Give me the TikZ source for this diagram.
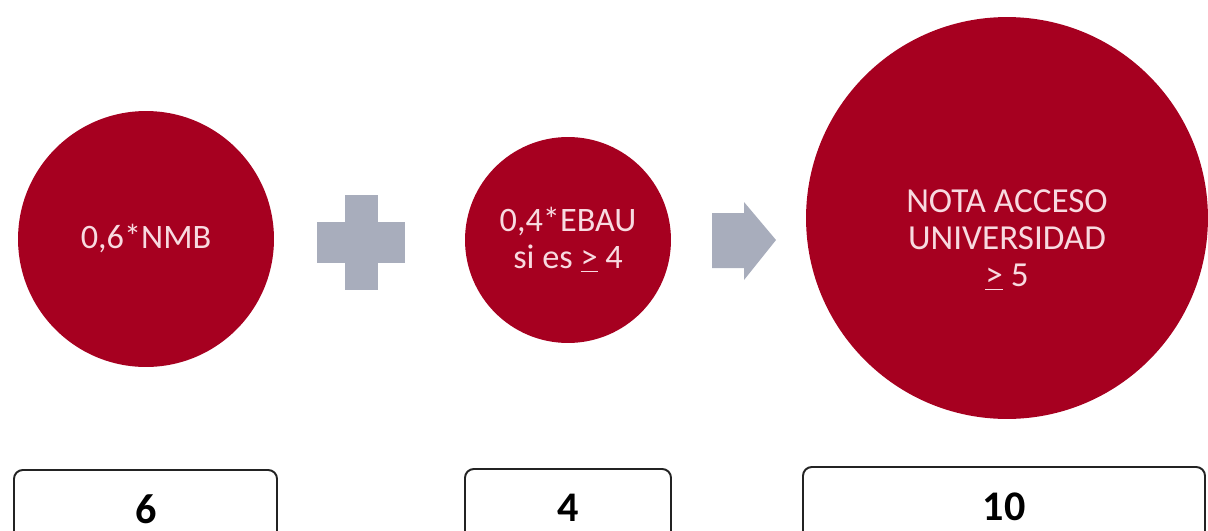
\documentclass[tikz,border=0pt]{standalone}
\usepackage{fontspec}
\setmainfont{Carlito}
\usetikzlibrary{positioning, calc}
\definecolor{ballred}{RGB}{166,0,32}
\definecolor{balltext}{RGB}{248,218,224}
\definecolor{signgray}{RGB}{168,173,188}
\definecolor{boxline}{RGB}{35,35,35}

\begin{document}
\begin{tikzpicture}[x=0.02cm, y=-0.02cm,
    ball/.style={circle, fill=ballred, inner sep=0pt},
    balltxt/.style={text=balltext, align=center, inner sep=0pt,
      font=\fontsize{19.5}{21}\selectfont},
    scorebox/.style={draw=boxline, line width=1.1pt, rounded corners=5pt},
    scoretxt/.style={inner sep=0pt, font=\fontsize{24}{28}\selectfont\bfseries}]
    \useasboundingbox (0,0) rectangle (1208,531);
    \clip (0,0) rectangle (1208,531);
    % Circles
    \node[ball, minimum size=5.12cm] (nmb) at (146,239) {};
    \node[ball, minimum size=4.12cm] (ebau) at (568,240) {};
    \node[ball, minimum size=8.04cm] (nota) at (1007,218) {};
    % Circle texts
    \node[balltxt] (nmbtxt) at (nmb.center) {0,6*NMB};
    \node[balltxt] (ebautxt) at (ebau.center) {0,4*EBAU\\si es \underline{>} 4};
    \node[balltxt, font=\fontsize{20}{21}\selectfont] (notatxt) at ($(nota.center)+(0,22)$)
      {NOTA ACCESO\\UNIVERSIDAD\\\underline{>} 5};
    % Plus sign
    \fill[signgray] (317,222) rectangle (405,263);
    \fill[signgray] (345,195) rectangle (378,290);
    % Arrow
    \fill[signgray] (712,213) -- (744,213) -- (744,202) -- (776,240)
      -- (744,280) -- (744,268) -- (712,268) -- cycle;
    % Score boxes
    \draw[scorebox] (14,470) rectangle (277,560);
    \draw[scorebox] (465,469) rectangle (671,560);
    \draw[scorebox] (803,467) rectangle (1205,560);
    \node[scoretxt] (nmbscore) at (146,509) {6};
    \node[scoretxt] (ebauscore) at (568,508) {4};
    \node[scoretxt] (notascore) at (1004,507) {10};
\end{tikzpicture}
\end{document}
